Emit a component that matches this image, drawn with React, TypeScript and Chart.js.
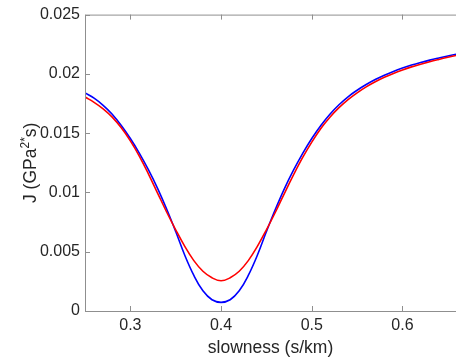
import React, { useEffect, useRef } from "react";
import { Chart, registerables } from "chart.js";

Chart.register(...registerables);

// slowness (s/km)
const slowness = [
  0.25, 0.26, 0.27, 0.28, 0.29, 0.3, 0.31, 0.32, 0.33, 0.34, 0.35, 0.36, 0.37, 0.38,
  0.39, 0.4, 0.41, 0.42, 0.43, 0.44, 0.45, 0.46, 0.47, 0.48, 0.49, 0.5, 0.51, 0.52,
  0.53, 0.54, 0.55, 0.56, 0.57, 0.58, 0.59, 0.6, 0.61, 0.62, 0.63, 0.64, 0.65, 0.66,
];

// J (GPa^2*s), blue curve
const jBlue = [
  0.0184, 0.01795, 0.01735, 0.0166, 0.01565, 0.01455, 0.0133, 0.0119, 0.01035, 0.0086,
  0.0067, 0.0047, 0.003, 0.0017, 0.00095, 0.00073, 0.00095, 0.0017, 0.003, 0.0047, 0.0067,
  0.0086, 0.01035, 0.0119, 0.0133, 0.01455, 0.01565, 0.0166, 0.0174, 0.01807, 0.01862,
  0.0191, 0.01952, 0.01989, 0.02021, 0.02049, 0.02074, 0.02096, 0.02116, 0.02134, 0.02151,
  0.02167,
];

// J (GPa^2*s), red curve
const jRed = [
  0.01805, 0.0176, 0.01705, 0.01635, 0.01545, 0.01435, 0.01305, 0.01155, 0.00995, 0.00835,
  0.00685, 0.00545, 0.00425, 0.00335, 0.0028, 0.00255, 0.0028, 0.00335, 0.00425, 0.00545,
  0.00685, 0.00835, 0.00995, 0.0115, 0.01295, 0.01425, 0.0154, 0.01635, 0.01715, 0.01783,
  0.0184, 0.0189, 0.01933, 0.01971, 0.02004, 0.02033, 0.02059, 0.02082, 0.02103, 0.02122,
  0.0214, 0.02157,
];

const xMin = 0.25;
const xMax = 0.659;
const yMin = 0;
const yMax = 0.025;
const xTicks = [0.3, 0.4, 0.5, 0.6];
const yTicks = [0, 0.005, 0.01, 0.015, 0.02, 0.025];
const yTickLabels = ["0", "0.005", "0.01", "0.015", "0.02", "0.025"];
const yTitleParts = ["J (GPa", "2*", "s)"];

const FONT = "'Liberation Sans', Arial, Helvetica, sans-serif";
const AXIS_COLOR = "#8f8f8f";
const TEXT_COLOR = "#262626";

const boxPlugin = {
  id: "matlabBox",
  afterDraw(chart: any) {
    const { ctx, chartArea } = chart;
    const { left, top, right, bottom } = chartArea;
    const xs = chart.scales.x;
    const ys = chart.scales.y;
    const tl = 5;
    ctx.save();
    ctx.strokeStyle = AXIS_COLOR;
    ctx.lineWidth = 1;
    ctx.beginPath();
    ctx.moveTo(left + 0.5, top + 0.5);
    ctx.lineTo(right, top + 0.5);
    ctx.moveTo(left + 0.5, top);
    ctx.lineTo(left + 0.5, bottom + 0.5);
    ctx.moveTo(left, bottom + 0.5);
    ctx.lineTo(right, bottom + 0.5);
    for (const v of xTicks) {
      const px = Math.round(xs.getPixelForValue(v)) + 0.5;
      ctx.moveTo(px, bottom);
      ctx.lineTo(px, bottom - tl);
      ctx.moveTo(px, top);
      ctx.lineTo(px, top + tl);
    }
    for (const v of yTicks) {
      const py = Math.round(ys.getPixelForValue(v)) + 0.5;
      ctx.moveTo(left, py);
      ctx.lineTo(left + tl, py);
    }
    ctx.stroke();

    // y-axis title with a superscript
    const mainFont = `17.5px ${FONT}`;
    const supFont = `12px ${FONT}`;
    ctx.fillStyle = TEXT_COLOR;
    ctx.textBaseline = "alphabetic";
    ctx.textAlign = "left";
    ctx.font = mainFont;
    const w0 = ctx.measureText(yTitleParts[0]).width;
    const w2 = ctx.measureText(yTitleParts[2]).width;
    ctx.font = supFont;
    const w1 = ctx.measureText(yTitleParts[1]).width;
    const total = w0 + w1 + w2;
    const cy = (top + bottom) / 2;
    ctx.translate(35.5, cy);
    ctx.rotate(-Math.PI / 2);
    let x = -total / 2;
    ctx.font = mainFont;
    ctx.fillText(yTitleParts[0], x, 0);
    x += w0;
    ctx.font = supFont;
    ctx.fillText(yTitleParts[1], x, -7);
    x += w1;
    ctx.font = mainFont;
    ctx.fillText(yTitleParts[2], x, 0);
    ctx.restore();
  },
};

export default function App() {
  const ref = useRef<HTMLCanvasElement | null>(null);

  useEffect(() => {
    if (!ref.current) return;
    const chart = new Chart(ref.current, {
      type: "line",
      data: {
        datasets: [
          {
            label: "red",
            data: slowness.map((x, i) => ({ x, y: jRed[i] })),
            borderColor: "#ff0000",
            borderWidth: 1.6,
            pointRadius: 0,
            tension: 0.4,
            fill: false,
          },
          {
            label: "blue",
            data: slowness.map((x, i) => ({ x, y: jBlue[i] })),
            borderColor: "#0000ff",
            borderWidth: 1.6,
            pointRadius: 0,
            tension: 0.4,
            fill: false,
          },
        ],
      },
      options: {
        animation: false,
        responsive: false,
        maintainAspectRatio: false,
        layout: { padding: { left: 0, right: 0, top: 12, bottom: 0 } },
        plugins: {
          legend: { display: false },
          tooltip: { enabled: false },
        },
        scales: {
          x: {
            type: "linear",
            min: xMin,
            max: xMax,
            afterBuildTicks: (s: any) => {
              s.ticks = xTicks.map((v) => ({ value: v }));
            },
            afterFit: (s: any) => {
              s.height = 51;
            },
            grid: { display: false, drawTicks: false },
            border: { display: false },
            ticks: {
              padding: 5,
              color: TEXT_COLOR,
              font: { family: FONT, size: 16 },
              maxRotation: 0,
              autoSkip: false,
              callback: (v: any) => String(Math.round(Number(v) * 10) / 10),
            },
            title: {
              display: true,
              text: "slowness (s/km)",
              color: TEXT_COLOR,
              font: { family: FONT, size: 17.5 },
              padding: { top: 0, bottom: 3 },
            },
          },
          y: {
            type: "linear",
            min: yMin,
            max: yMax,
            afterBuildTicks: (s: any) => {
              s.ticks = yTicks.map((v) => ({ value: v }));
            },
            afterFit: (s: any) => {
              s.width = 85;
            },
            grid: { display: false, drawTicks: false },
            border: { display: false },
            ticks: {
              padding: 5,
              color: TEXT_COLOR,
              font: { family: FONT, size: 16 },
              autoSkip: false,
              callback: (v: any) => {
                const i = yTicks.findIndex((t) => Math.abs(t - Number(v)) < 1e-9);
                return i >= 0 ? yTickLabels[i] : "";
              },
            },
            title: { display: false },
          },
        },
      },
      plugins: [boxPlugin],
    });
    return () => chart.destroy();
  }, []);

  return (
    <div style={{ position: "absolute", left: 0, top: 0, width: 456, height: 362, background: "#fff" }}>
      <canvas ref={ref} width={456} height={362} style={{ display: "block", width: 456, height: 362 }} />
    </div>
  );
}
